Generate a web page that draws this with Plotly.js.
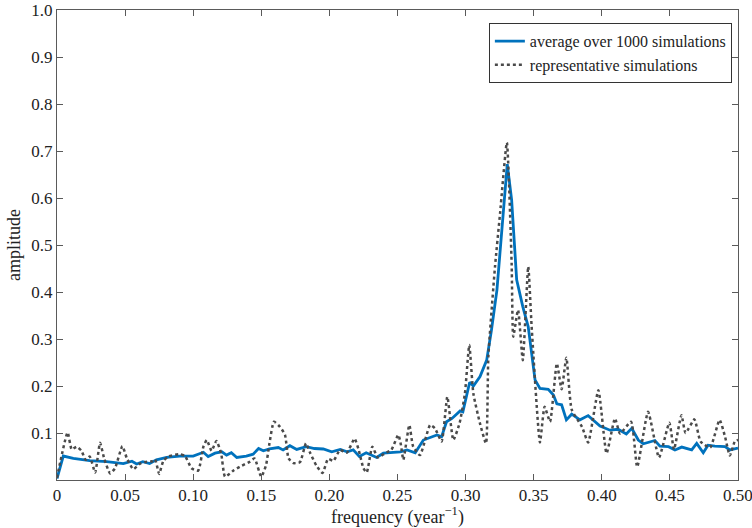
<script src="https://cdn.plot.ly/plotly-3.0.1.min.js"></script>
<style>
  body { margin: 0; background: #fff; }
  #spec { width: 752px; height: 528px; }
</style>
<div id="spec"></div>
<script>
// average spectrum (blue)
const avgFreq = [0, 0.0046, 0.012, 0.024, 0.0365, 0.0487, 0.055, 0.0585, 0.063, 0.068, 0.073, 0.0805, 0.090, 0.100,
  0.1075, 0.111, 0.116, 0.121, 0.1245, 0.128, 0.132, 0.139, 0.144, 0.148, 0.1515, 0.156, 0.1625, 0.166, 0.171, 0.176,
  0.183, 0.189, 0.1955, 0.2017, 0.208, 0.213, 0.2175, 0.222, 0.227, 0.2347, 0.2396, 0.247, 0.252, 0.257, 0.263, 0.269,
  0.279, 0.2824, 0.286, 0.290, 0.296, 0.298, 0.303, 0.3057, 0.3106, 0.3155, 0.319, 0.323, 0.3265, 0.3306, 0.3338,
  0.3375, 0.342, 0.346, 0.351, 0.3546, 0.3607, 0.3645, 0.367, 0.3705, 0.374, 0.3779, 0.384, 0.390, 0.3987, 0.406,
  0.412, 0.418, 0.422, 0.4268, 0.4305, 0.439, 0.4427, 0.449, 0.4537, 0.4587, 0.466, 0.4697, 0.4745, 0.478, 0.483,
  0.4905, 0.494, 0.4978, 0.500];
const avgAmp = [0.003, 0.051, 0.046, 0.041, 0.039, 0.035, 0.040, 0.034, 0.039, 0.035, 0.043, 0.048, 0.051, 0.051,
  0.059, 0.050, 0.057, 0.060, 0.053, 0.058, 0.048, 0.051, 0.055, 0.067, 0.062, 0.066, 0.069, 0.064, 0.073, 0.065,
  0.071, 0.067, 0.066, 0.060, 0.065, 0.060, 0.064, 0.050, 0.058, 0.048, 0.057, 0.058, 0.060, 0.064, 0.058, 0.085,
  0.096, 0.092, 0.124, 0.131, 0.147, 0.145, 0.208, 0.200, 0.220, 0.255, 0.319, 0.404, 0.532, 0.672, 0.596,
  0.426, 0.369, 0.326, 0.213, 0.195, 0.193, 0.181, 0.162, 0.160, 0.128, 0.140, 0.128, 0.137, 0.115, 0.106,
  0.108, 0.098, 0.110, 0.085, 0.077, 0.084, 0.072, 0.071, 0.064, 0.070, 0.064, 0.078, 0.058, 0.074, 0.072,
  0.071, 0.064, 0.067, 0.068];

// one representative run (dotted)
const repFreq = [0, 0.0078, 0.0108, 0.0144, 0.018, 0.021, 0.024, 0.028, 0.0316, 0.0347, 0.039, 0.0426, 0.048, 0.0512,
  0.056, 0.061, 0.066, 0.070, 0.072, 0.075, 0.078, 0.0817, 0.090, 0.094, 0.0988, 0.1037, 0.1075, 0.110, 0.1135, 0.117,
  0.1205, 0.1234, 0.1295, 0.1355, 0.1417, 0.145, 0.150, 0.1535, 0.156, 0.1593, 0.1637, 0.1674, 0.170, 0.1735, 0.1784,
  0.1828, 0.1855, 0.1906, 0.195, 0.199, 0.203, 0.2078, 0.2127, 0.2185, 0.2215, 0.225, 0.2274, 0.2315, 0.2355, 0.241,
  0.2455, 0.2506, 0.2525, 0.2543, 0.2587, 0.2615, 0.2665, 0.274, 0.2775, 0.2824, 0.2866, 0.291, 0.2955, 0.2995,
  0.3027, 0.3057, 0.3106, 0.315, 0.3167, 0.3216, 0.3253, 0.3303, 0.3338, 0.335, 0.3385, 0.342, 0.346, 0.3485,
  0.3546, 0.358, 0.362, 0.367, 0.3705, 0.374, 0.3779, 0.3855, 0.390, 0.3975, 0.4035, 0.4097, 0.4134, 0.4215, 0.426,
  0.434, 0.442, 0.4496, 0.453, 0.4585, 0.4615, 0.468, 0.4725, 0.4795, 0.4865, 0.4905, 0.494, 0.4978, 0.500];
const repAmp = [0.005, 0.101, 0.065, 0.071, 0.062, 0.043, 0.050, 0.016, 0.079, 0.045, 0.014, 0.025, 0.072, 0.047,
  0.023, 0.035, 0.039, 0.040, 0.044, 0.013, 0.040, 0.050, 0.055, 0.051, 0.025, 0.020, 0.071, 0.085, 0.062, 0.083,
  0.057, 0.007, 0.020, 0.030, 0.039, 0.046, 0.007, 0.032, 0.078, 0.124, 0.113, 0.096, 0.046, 0.036, 0.038,
  0.078, 0.060, 0.030, 0.015, 0.045, 0.041, 0.064, 0.058, 0.088, 0.064, 0.025, 0.016, 0.071, 0.048, 0.057,
  0.064, 0.096, 0.075, 0.043, 0.117, 0.071, 0.053, 0.117, 0.110, 0.082, 0.177, 0.085, 0.120, 0.184,
  0.287, 0.184, 0.120, 0.078, 0.262, 0.454, 0.567, 0.718, 0.461, 0.305, 0.362, 0.255, 0.454, 0.326,
  0.080, 0.156, 0.124, 0.248, 0.193, 0.260, 0.150, 0.113, 0.080, 0.191, 0.057, 0.131, 0.099, 0.124, 0.028,
  0.145, 0.048, 0.122, 0.065, 0.138, 0.100, 0.129, 0.082, 0.069, 0.128, 0.092, 0.052, 0.083, 0.085];

const xTicks = [0, 0.05, 0.10, 0.15, 0.20, 0.25, 0.30, 0.35, 0.40, 0.45, 0.50];
const xTickText = ['0', '0.05', '0.10', '0.15', '0.20', '0.25', '0.30', '0.35', '0.40', '0.45', '0.50'];
const yTicks = [0.1, 0.2, 0.3, 0.4, 0.5, 0.6, 0.7, 0.8, 0.9, 1.0];
const yTickText = ['0.1', '0.2', '0.3', '0.4', '0.5', '0.6', '0.7', '0.8', '0.9', '1.0'];

const serif = '"Liberation Serif", "Times New Roman", serif';
const axisCol = '#5a5a5a';

const traces = [
  {
    x: avgFreq, y: avgAmp, type: 'scatter', mode: 'lines',
    name: 'average over 1000 simulations',
    line: { color: '#0072BD', width: 2.8 }
  },
  {
    x: repFreq, y: repAmp, type: 'scatter', mode: 'lines',
    name: 'representative simulations',
    line: { color: '#4a4a4a', width: 2.5, dash: 'dot', shape: 'spline', smoothing: 0.5 }
  }
];

const axisBase = {
  showgrid: false, zeroline: false, showline: true, linecolor: axisCol, linewidth: 1,
  mirror: 'ticks', ticks: 'inside', ticklen: 6, tickcolor: axisCol,
  ticklabeloverflow: 'allow',
  tickfont: { family: serif, size: 17, color: '#222' }
};

const layout = {
  width: 752, height: 528,
  margin: { l: 57, r: 14, t: 10, b: 48 },
  paper_bgcolor: '#fff', plot_bgcolor: '#fff',
  font: { family: serif, color: '#222' },
  xaxis: Object.assign({}, axisBase, {
    range: [0, 0.50001], tickvals: xTicks, ticktext: xTickText,
    title: { text: 'frequency (year<sup>\u22121</sup>)', font: { family: serif, size: 18, color: '#222' }, standoff: 2 }
  }),
  yaxis: Object.assign({}, axisBase, {
    range: [0, 1.00001], tickvals: yTicks, ticktext: yTickText,
    title: { text: 'amplitude', font: { family: serif, size: 18, color: '#222' }, standoff: 6 }
  }),
  showlegend: true,
  legend: {
    x: 0.991, xanchor: 'right', y: 0.972, yanchor: 'top',
    bgcolor: '#fff', bordercolor: '#333', borderwidth: 1,
    font: { family: serif, size: 16, color: '#222' },
    tracegroupgap: 0
  }
};

Plotly.newPlot('spec', traces, layout, { staticPlot: true });
</script>
